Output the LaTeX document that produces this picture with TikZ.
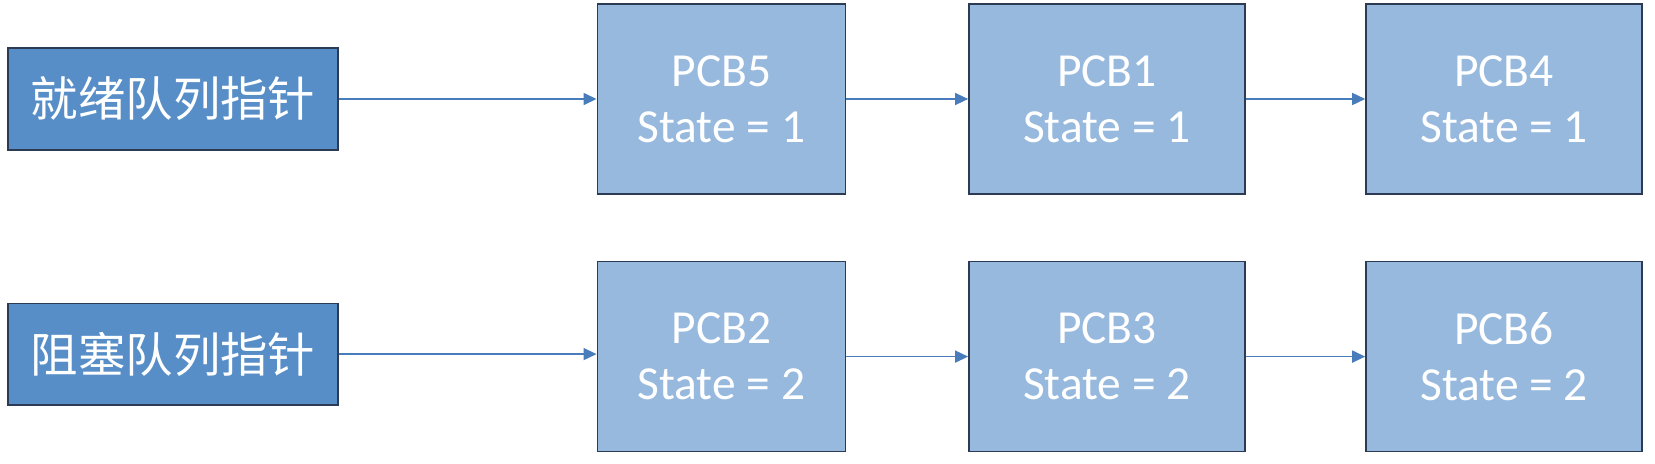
\documentclass[tikz,border=0pt]{standalone}
\usepackage{fontspec}
\setmainfont{Carlito}
\newfontfamily\cjk{Noto Sans CJK SC}
\usepackage{xcolor}
\usetikzlibrary{positioning,arrows.meta}

\definecolor{ptrfill}{RGB}{88,142,200}
\definecolor{pcbfill}{RGB}{151,185,222}
\definecolor{edgeline}{RGB}{44,58,84}
\definecolor{arrline}{RGB}{72,124,186}

\begin{document}
\begin{tikzpicture}[
    ptr/.style={draw=edgeline, line width=0.9pt, fill=ptrfill, text=white,
                minimum width=6.59cm, minimum height=2.03cm, inner sep=0pt,
                font=\cjk\fontsize{27}{32}\selectfont},
    pcb/.style={draw=edgeline, line width=0.9pt, fill=pcbfill, text=white,
                minimum width=5.52cm, minimum height=3.8cm, inner sep=0pt,
                align=center, font=\fontsize{27}{32}\selectfont},
    arr/.style={-{Triangle[length=0.26cm,width=0.24cm]}, draw=arrline,
                fill=arrline, line width=0.85pt},
  ]
  \useasboundingbox (0,0) rectangle (33.1,-9.26);
  % ready queue
  \node[ptr] (ready) at (3.46,-1.98) {就绪队列指针};
  \node[pcb, right=5.16cm of ready, minimum width=4.96cm] (pcb5) {PCB5\\State = 1};
  \node[pcb, right=2.44cm of pcb5] (pcb1) {PCB1\\State = 1};
  \node[pcb, right=2.39cm of pcb1] (pcb4) {PCB4\\State = 1};
  % blocked queue
  \node[ptr, below=3.04cm of ready] (blocked) {阻塞队列指针};
  \node[pcb, below=1.32cm of pcb5, minimum width=4.96cm] (pcb2) {PCB2\\State = 2};
  \node[pcb, below=1.32cm of pcb1] (pcb3) {PCB3\\State = 2};
  \node[pcb, below=1.32cm of pcb4] (pcb6) {PCB6\\State = 2};

  \draw[arr] (ready.east)   -- (pcb5.west);
  \draw[arr] (pcb5.east)    -- (pcb1.west);
  \draw[arr] (pcb1.east)    -- (pcb4.west);
  \draw[arr] (blocked.east) -- (blocked.east -| pcb2.west);
  \draw[arr] (pcb2.east)    -- (pcb3.west);
  \draw[arr] (pcb3.east)    -- (pcb6.west);
\end{tikzpicture}
\end{document}
